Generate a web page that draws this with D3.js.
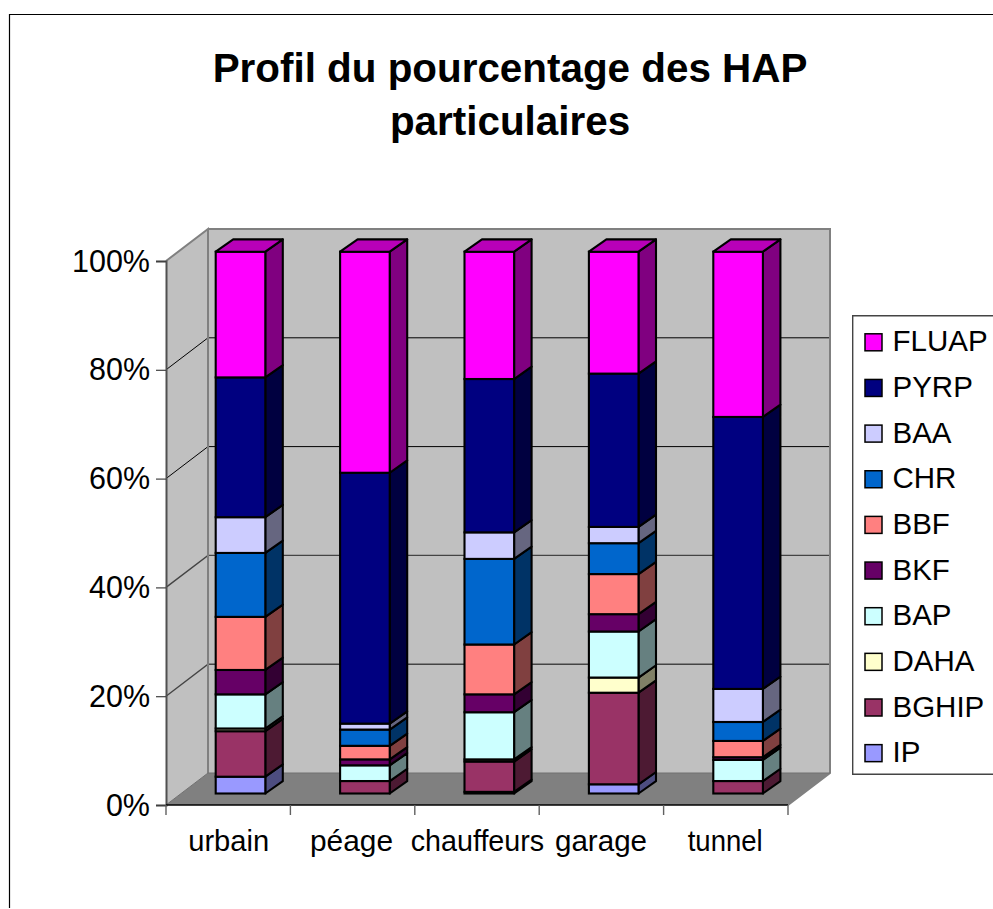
<!DOCTYPE html>
<html><head><meta charset="utf-8">
<script src="https://cdn.jsdelivr.net/npm/d3@7"></script>
<style>html,body{margin:0;padding:0;background:#fff;overflow:hidden}svg{display:block}
text{font-family:"Liberation Sans",Arial,sans-serif;fill:#000}</style></head><body>
<script>
const titleLines = ["Profil du pourcentage des HAP", "particulaires"];
const categories = ["urbain", "péage", "chauffeurs", "garage", "tunnel"];
const seriesNames = ["IP", "BGHIP", "DAHA", "BAP", "BKF", "BBF", "CHR", "BAA", "PYRP", "FLUAP"];
const seriesColors = ["#9999ff", "#993366", "#ffffcc", "#ccffff", "#660066", "#ff8080", "#0066cc", "#ccccff", "#000080", "#ff00ff"];
const IP    = [3.1, 0,   0.3, 1.7, 0];
const BGHIP = [8.4, 2.3, 5.6, 16.9, 2.3];
const DAHA  = [0.5, 0,   0.4, 2.8, 0];
const BAP   = [6.3, 2.9, 8.7, 8.5, 3.9];
const BKF   = [4.5, 1.1, 3.3, 3.2, 0.5];
const BBF   = [9.8, 2.5, 9.2, 7.4, 3.0];
const CHR   = [11.8, 3.0, 15.8, 5.7, 3.5];
const BAA   = [6.6, 1.1, 4.9, 3.0, 6.1];
const PYRP  = [25.8, 46.3, 28.3, 28.3, 50.2];
const FLUAP = [23.2, 40.8, 23.5, 22.5, 30.5];
const seriesValues = [IP, BGHIP, DAHA, BAP, BKF, BBF, CHR, BAA, PYRP, FLUAP];
const yTicks = [0, 20, 40, 60, 80, 100];

const W = 993, H = 909;
const svg = d3.select("body").append("svg").attr("width", W).attr("height", H);

// frame
svg.append("path").attr("d", `M9.5,908V14.5H${W}`).attr("fill", "none").attr("stroke", "#000").attr("stroke-width", 1.2);

// geometry
const left = 166, right = 788, y0 = 805, y100 = 261, dx = 42, dy = -32;
const x = d3.scaleBand().domain(categories).range([left, right]);
const y = d3.scaleLinear().domain([0, 100]).range([y0, y100]);
const yBar = d3.scaleLinear().domain([0, 100]).range([793.5, 251.7]);
const barW = 49.6, barInset = 49.7, sdx = 17.5, sdy = -12.3;

// walls
const poly = (pts) => "M" + pts.map(p => p.join(",")).join("L") + "Z";
svg.append("path").attr("d", poly([[left, y(100)], [left + dx, y(100) + dy], [left + dx, y0 + dy], [left, y0]])).attr("fill", "#c0c0c0");
svg.append("rect").attr("x", left + dx).attr("y", y(100) + dy).attr("width", right - left).attr("height", y0 - y100).attr("fill", "#c0c0c0");
svg.append("path").attr("d", poly([[left, y0], [right, y0], [right + dx, y0 + dy], [left + dx, y0 + dy]])).attr("fill", "#808080");

// gridlines
const gridStyle = v => v >= 60 ? {c: "#000", w: 1} : {c: "#444", w: 1.4};
yTicks.filter(v => v > 0 && v < 100).forEach(v => {
  const g = gridStyle(v);
  svg.append("path").attr("d", `M${left},${y(v)}L${left + dx},${y(v) + dy}H${right + dx}`)
    .attr("fill", "none").attr("stroke", g.c).attr("stroke-width", g.w);
});
// wall outline
svg.append("path").attr("d", `M${left},${y(100)}L${left + dx},${y(100) + dy}V${y0 + dy}M${left + dx},${y(100) + dy}H${right + dx}V${y0 + dy}L${right},${y0}`)
  .attr("fill", "none").attr("stroke", "#808080").attr("stroke-width", 2);
svg.append("path").attr("d", `M${left + dx},${y0 + dy}H${right + dx}M${left},${y0}L${left + dx},${y0 + dy}`)
  .attr("fill", "none").attr("stroke", "#707070").attr("stroke-width", 1);

// stacked bars
const rows = categories.map((c, i) => {
  const r = {cat: c};
  seriesNames.forEach((s, j) => r[s] = seriesValues[j][i]);
  return r;
});
const stacked = d3.stack().keys(seriesNames)(rows);
const shade = (col, k) => { const c = d3.rgb(col); return d3.rgb(c.r * k, c.g * k, c.b * k).formatHex(); };
const barStroke = {stroke: "#000", sw: 2.1};
categories.forEach((c, i) => {
  const bx = x(c) + barInset;
  const g = svg.append("g").attr("class", "bar");
  stacked.forEach((layer, j) => {
    const [a, b] = layer[i];
    if (b - a <= 0) return;
    const col = seriesColors[j];
    const ya = yBar(a), yb = yBar(b);
    g.append("path").attr("d", poly([[bx + barW, yb], [bx + barW + sdx, yb + sdy], [bx + barW + sdx, ya + sdy], [bx + barW, ya]]))
      .attr("fill", shade(col, 0.5)).attr("stroke", barStroke.stroke).attr("stroke-width", barStroke.sw).attr("stroke-linejoin", "round");
    g.append("rect").attr("x", bx).attr("y", yb).attr("width", barW).attr("height", ya - yb)
      .attr("fill", col).attr("stroke", barStroke.stroke).attr("stroke-width", barStroke.sw);
    if (j === stacked.length - 1) {
      g.append("path").attr("d", poly([[bx, yb], [bx + sdx, yb + sdy], [bx + barW + sdx, yb + sdy], [bx + barW, yb]]))
        .attr("fill", shade(col, 0.72)).attr("stroke", barStroke.stroke).attr("stroke-width", barStroke.sw).attr("stroke-linejoin", "round");
    }
  });
});

// axes
const yAxis = d3.axisLeft(y).tickValues(yTicks).tickFormat(v => v + "%").tickSize(10).tickPadding(6);
const yG = svg.append("g").attr("transform", `translate(${left},0)`).call(yAxis);
yG.select(".domain").attr("stroke", "#505050").attr("stroke-width", 2);
yG.selectAll(".tick line").attr("stroke", "#404040").attr("stroke-width", 1.2);
yG.selectAll("text").attr("font-size", 30.5).attr("font-family", '"Liberation Sans"').attr("fill", "#000")
  .attr("dy", null).attr("y", 10);

const xAxis = d3.axisBottom(x).tickSize(0).tickPadding(26);
const xG = svg.append("g").attr("transform", `translate(0,${y0})`).call(xAxis);
xG.select(".domain").remove();
// label extents follow the reference's hinted text widths
const labelBoxes = {urbain: [-40, 81], "péage": [-42.6, 83], chauffeurs: [-66.3, 133.5], garage: [-46.4, 92], tunnel: [-38.1, 75]};
xG.selectAll("text").attr("font-size", 29.5).attr("font-family", '"Liberation Sans"').attr("fill", "#000")
  .attr("y", 45.5).attr("dy", null).attr("text-anchor", "start")
  .attr("x", d => labelBoxes[d][0]).attr("textLength", d => labelBoxes[d][1]).attr("lengthAdjust", "spacingAndGlyphs");
svg.append("line").attr("x1", left).attr("x2", right).attr("y1", y0).attr("y2", y0).attr("stroke", "#000").attr("stroke-width", 1.4);
d3.range(categories.length + 1).forEach(i => {
  const tx = left + x.step() * i;
  svg.append("line").attr("x1", tx).attr("x2", tx).attr("y1", y0).attr("y2", y0 + 10).attr("stroke", "#606060").attr("stroke-width", 1.4);
});

// title
svg.selectAll("text.title").data(titleLines).join("text").attr("class", "title")
  .attr("x", 510).attr("y", (d, i) => 82 + i * 53).attr("text-anchor", "middle")
  .attr("font-size", 40.4).attr("font-weight", "bold").text(d => d);

// legend
const legendTop = 342.3, legendStep = 45.65;
svg.append("path").attr("d", `M${W},315.7H852.7V774.3H${W}`).attr("fill", "#fff").attr("stroke", "#444").attr("stroke-width", 1.4);
const legendOrder = seriesNames.map((s, j) => j).reverse();
legendOrder.forEach((j, k) => {
  const cy = legendTop + k * legendStep;
  svg.append("rect").attr("x", 865).attr("y", cy - 8.5).attr("width", 17).attr("height", 17)
    .attr("fill", seriesColors[j]).attr("stroke", "#000").attr("stroke-width", 1.5);
  svg.append("text").attr("x", 892.5).attr("y", cy + 9).attr("font-size", 29.5).text(seriesNames[j]);
});
</script></body></html>
